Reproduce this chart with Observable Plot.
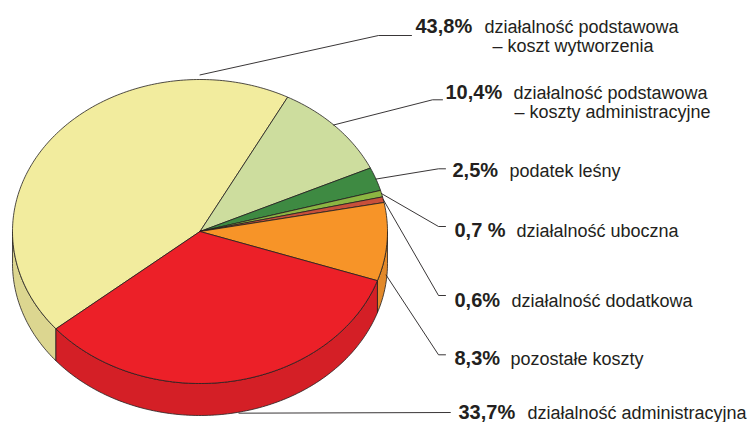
<!DOCTYPE html>
<html><head><meta charset="utf-8">
<script src="https://cdn.jsdelivr.net/npm/d3@7"></script>
<script src="https://cdn.jsdelivr.net/npm/@observablehq/plot@0.6"></script>
<style>
html,body{margin:0;padding:0;background:#fff;overflow:hidden}
#chart svg{display:block;font-family:"Liberation Sans",Arial,sans-serif}
</style></head>
<body><div id="chart"></div>
<script>
// ---- data ----
const values = [43.8, 10.4, 2.5, 0.7, 0.6, 8.3, 33.7];
const percentLabels = ["43,8%", "10,4%", "2,5%", "0,7 %", "0,6%", "8,3%", "33,7%"];
const nameLine1 = ["działalność podstawowa", "działalność podstawowa", "podatek leśny", "działalność uboczna", "działalność dodatkowa", "pozostałe koszty", "działalność administracyjna"];
const nameLine2 = ["– koszt wytworzenia", "– koszty administracyjne", "", "", "", "", ""];

// ---- styles ----
const topColors  = ["#F2EC9E", "#CDDD9E", "#3E8A42", "#8CB542", "#C8503A", "#F79428", "#EC2028"];
const sideColors = ["#DCD690", "#B9C98C", "#357A3A", "#7CA33A", "#B44632", "#E2892A", "#D41F26"];
const INK = "#231F20";
const PCT_SIZE = 20, NAME_SIZE = 18;

// ---- layout ----
const W = 747, H = 422;
const CX = 199.5, CY = 231, RX = 187.5, RY = 152, DEPTH = 32;
const START_DEG = -129.8;
const anchorAngle = [0, 45.5, null, null, null, 97, 168];   // null -> slice mid angle
const anchorRadius = [1.03, 1, 1, 1, 1, 1, 1];
const anchorDrop = [0, 0, 0, 0, 0, 25, 33];
const elbowX = [378, 432, 438, 438, 438, 438, 450];
const lineY  = [35, 99.3, 168.3, 226, 295, 354.3, 412];
const lineEndX = [411, 442, 445, 445, 445, 445, 450];
const baseline1 = [32.7, 98.3, 176.7, 236, 306, 364, 418.5];
const baseline2 = [51.5, 117, 0, 0, 0, 0, 0];
const pctX   = [415, 445, 452, 454, 454, 454, 458];
const nameX  = [484, 513, 509, 516, 511, 510, 527];
const name2X = [492, 514, 0, 0, 0, 0, 0];

const rad = d => d * Math.PI / 180;
const pie = d3.pie().sort(null).value(d => d)
  .startAngle(rad(START_DEG)).endAngle(rad(START_DEG + 360))(values);

const pt = (t, r = 1, drop = 0) => ({x: CX + RX * r * Math.sin(t), y: CY - RY * r * Math.cos(t) + drop});
const arcPts = (a0, a1, drop = 0) => {
  const n = Math.max(2, Math.ceil(Math.abs(a1 - a0) / rad(1)));
  return d3.range(n + 1).map(i => pt(a0 + (a1 - a0) * i / n, 1, drop));
};

// side walls (front half: angles in [90°,270°] modulo 360)
const sides = [];
pie.forEach((p, i) => {
  for (const k of [-1, 0]) {
    const lo = Math.PI / 2 + 2 * Math.PI * k, hi = 3 * Math.PI / 2 + 2 * Math.PI * k;
    const s = Math.max(p.startAngle, lo), e = Math.min(p.endAngle, hi);
    if (e > s) {
      const poly = [...arcPts(s, e, 0), ...arcPts(e, s, DEPTH)];
      poly.push(poly[0]);
      poly.forEach(q => sides.push({key: `s${i}${k}`, x: q.x, y: q.y, fill: sideColors[i]}));
    }
  }
});

// top faces
const tops = [];
pie.forEach((p, i) => {
  const c = {x: CX, y: CY};
  const poly = [c, ...arcPts(p.startAngle, p.endAngle), c];
  poly.forEach(q => tops.push({key: `t${i}`, x: q.x, y: q.y, fill: topColors[i]}));
});

// leader lines
const leaders = [];
pie.forEach((p, i) => {
  const a = anchorAngle[i] == null ? (p.startAngle + p.endAngle) / 2 : rad(anchorAngle[i]);
  const A = pt(a, anchorRadius[i], anchorDrop[i]);
  [A, {x: elbowX[i], y: lineY[i]}, {x: lineEndX[i], y: lineY[i]}]
    .forEach(q => leaders.push({key: i, x: q.x, y: q.y}));
});

// Plot's "middle" line anchor puts the baseline 0.32em below y
const labels = values.map((v, i) => ({
  pct: percentLabels[i], n1: nameLine1[i], n2: nameLine2[i],
  px: pctX[i], nx: nameX[i], n2x: name2X[i],
  yp: baseline1[i] - 0.32 * PCT_SIZE,
  yn: baseline1[i] - 0.32 * NAME_SIZE,
  y2: baseline2[i] - 0.32 * NAME_SIZE
}));

const chart = Plot.plot({
  width: W, height: H,
  margin: 0,
  x: {domain: [0, W], range: [0, W], axis: null},
  y: {domain: [0, H], range: [0, H], axis: null},
  color: {type: "identity"},
  style: {fontFamily: "Liberation Sans, Arial, sans-serif", background: "#fff", overflow: "visible"},
  marks: [
    Plot.line(sides, {x: "x", y: "y", z: "key", fill: "fill", stroke: INK, strokeWidth: 0.8, strokeLinejoin: "round"}),
    Plot.line(tops, {x: "x", y: "y", z: "key", fill: "fill", stroke: INK, strokeWidth: 0.8, strokeLinejoin: "round"}),
    Plot.line(leaders, {x: "x", y: "y", z: "key", stroke: INK, strokeWidth: 0.9}),
    Plot.text(labels, {x: "px", y: "yp", text: "pct", textAnchor: "start", fontWeight: "bold", fontSize: PCT_SIZE, fill: INK}),
    Plot.text(labels, {x: "nx", y: "yn", text: "n1", textAnchor: "start", fontSize: NAME_SIZE, fill: INK}),
    Plot.text(labels.filter(d => d.n2), {x: "n2x", y: "y2", text: "n2", textAnchor: "start", fontSize: NAME_SIZE, fill: INK})
  ]
});
document.getElementById("chart").appendChild(chart);
</script>
</body></html>
